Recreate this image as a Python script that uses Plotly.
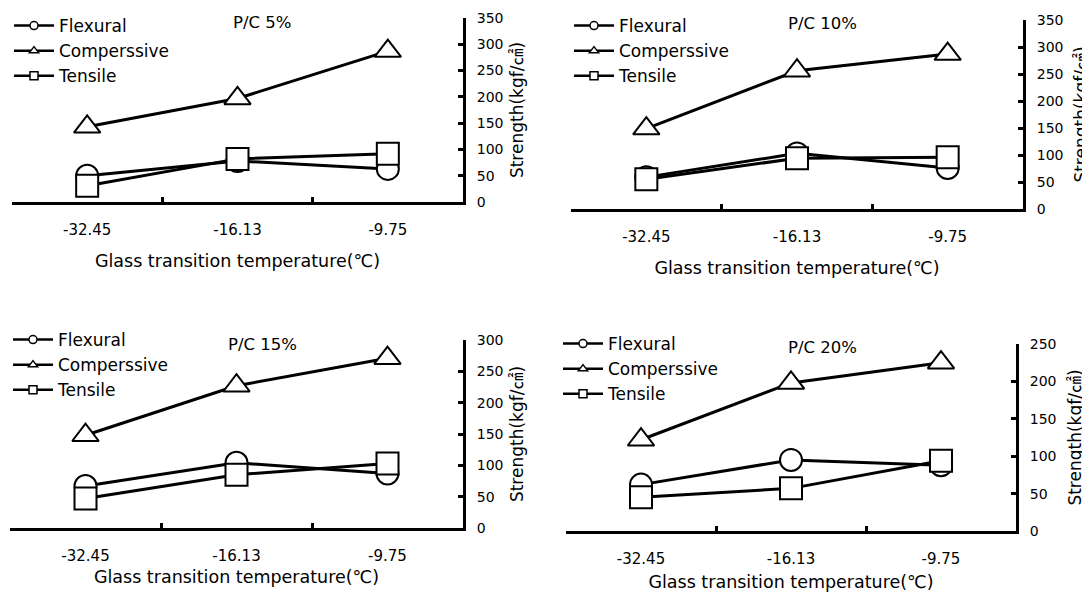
import plotly.graph_objects as go

categories = ["-32.45", "-16.13", "-9.75"]
panel_titles = ["P/C 5%", "P/C 10%", "P/C 15%", "P/C 20%"]
series_names = ["Flexural", "Comperssive", "Tensile"]

flexural_5 = [50, 78, 63]
compressive_5 = [143, 197, 287]
tensile_5 = [31, 82, 92]

flexural_10 = [59, 103, 76]
compressive_10 = [149, 256, 287]
tensile_10 = [55, 94, 96]

flexural_15 = [67, 104, 87]
compressive_15 = [148, 227, 271]
tensile_15 = [47, 85, 103]

flexural_20 = [62, 95, 88]
compressive_20 = [122, 198, 225]
tensile_20 = [45, 57, 94]

y_max = [350, 350, 300, 250]
x_title = "Glass transition temperature(℃)"
y_title = "Strength(kgf/㎠)"

panels = [
    (flexural_5, compressive_5, tensile_5),
    (flexural_10, compressive_10, tensile_10),
    (flexural_15, compressive_15, tensile_15),
    (flexural_20, compressive_20, tensile_20),
]

W, H = 1090, 594
OFF = 8  # page body margin
# screen pixel boxes: left, right, bottom(axis), top
boxes = [
    (12, 463, 202, 18),
    (571, 1023, 209, 20),
    (10, 463, 528, 340),
    (566, 1016, 531, 344),
]
legend_pos = [(9, 8), (569, 8), (8, 322), (558, 326)]
title_pos = [(262, 22), (822, 24), (262, 344), (822, 347)]
y_title_standoff = [9, 13, 9, 14]
x_title_standoff = [17, 17, 7, 9]

FONT = "DejaVu Sans, Noto Sans CJK KR, sans-serif"
symbols = ["circle", "triangle-up", "square"]
sizes = [22, 23, 22]

fig = go.Figure()

for i, (vals, box) in enumerate(zip(panels, boxes)):
    n = "" if i == 0 else str(i + 1)
    xa, ya = "x" + n, "y" + n
    lg = "legend" + n
    for name, v, sym, sz in zip(series_names, vals, symbols, sizes):
        fig.add_trace(go.Scatter(
            x=categories, y=v, xaxis=xa, yaxis=ya, mode="lines+markers",
            name=name, showlegend=False, cliponaxis=False,
            line=dict(color="black", width=3),
            marker=dict(symbol=sym, size=sz, color="white",
                        line=dict(color="black", width=2)),
        ))
    for name, sym in zip(series_names, symbols):
        fig.add_trace(go.Scatter(
            x=[None], y=[None], xaxis=xa, yaxis=ya, mode="lines+markers",
            name=name, legend=lg, showlegend=True,
            line=dict(color="black", width=2.5),
            marker=dict(symbol=sym, size=8, color="white",
                        line=dict(color="black", width=1.5)),
        ))
    l, r, b, t = [v - OFF for v in box]
    xd = [l / W, r / W]
    yd = [1 - b / H, 1 - t / H]
    axis_common = dict(showgrid=False, zeroline=False, showline=True,
                       linecolor="black", linewidth=3, ticks="inside",
                       tickcolor="black", tickwidth=3, ticklen=5,
                       automargin=False, ticklabeloverflow="allow")
    fig.update_layout(**{
        ("xaxis" + n): dict(domain=xd, anchor=ya, type="category",
                            tickson="boundaries", range=[-0.5, 2.5],
                            ticklabelstandoff=12,
                            tickfont=dict(family=FONT, size=15, color="black"),
                            title=dict(text=x_title, standoff=x_title_standoff[i],
                                       font=dict(family=FONT, size=17.5, color="black")),
                            **axis_common),
        ("yaxis" + n): dict(domain=yd, anchor=xa, side="right",
                            range=[0, y_max[i]], dtick=50, tick0=0,
                            ticklabelstandoff=8,
                            tickfont=dict(family=FONT, size=14, color="black"),
                            title=dict(text=y_title, standoff=y_title_standoff[i],
                                       font=dict(family=FONT, size=17, color="black")),
                            **axis_common),
        lg: dict(x=(legend_pos[i][0] - OFF) / W, y=min(1.0, 1 - (legend_pos[i][1] - OFF) / H),
                 xanchor="left", yanchor="top", bgcolor="rgba(0,0,0,0)",
                 font=dict(family=FONT, size=17, color="black"),
                 itemwidth=40, tracegroupgap=0),
    })
    tx, ty = title_pos[i]
    fig.add_annotation(text=panel_titles[i], x=(tx - OFF) / W, y=1 - (ty - OFF) / H,
                       xref="paper", yref="paper", showarrow=False,
                       xanchor="center", yanchor="middle",
                       font=dict(family=FONT, size=16.5, color="black"))

fig.update_layout(width=W, height=H, margin=dict(l=0, r=0, t=0, b=0),
                  paper_bgcolor="white", plot_bgcolor="white")

fig.write_html("out.html")
